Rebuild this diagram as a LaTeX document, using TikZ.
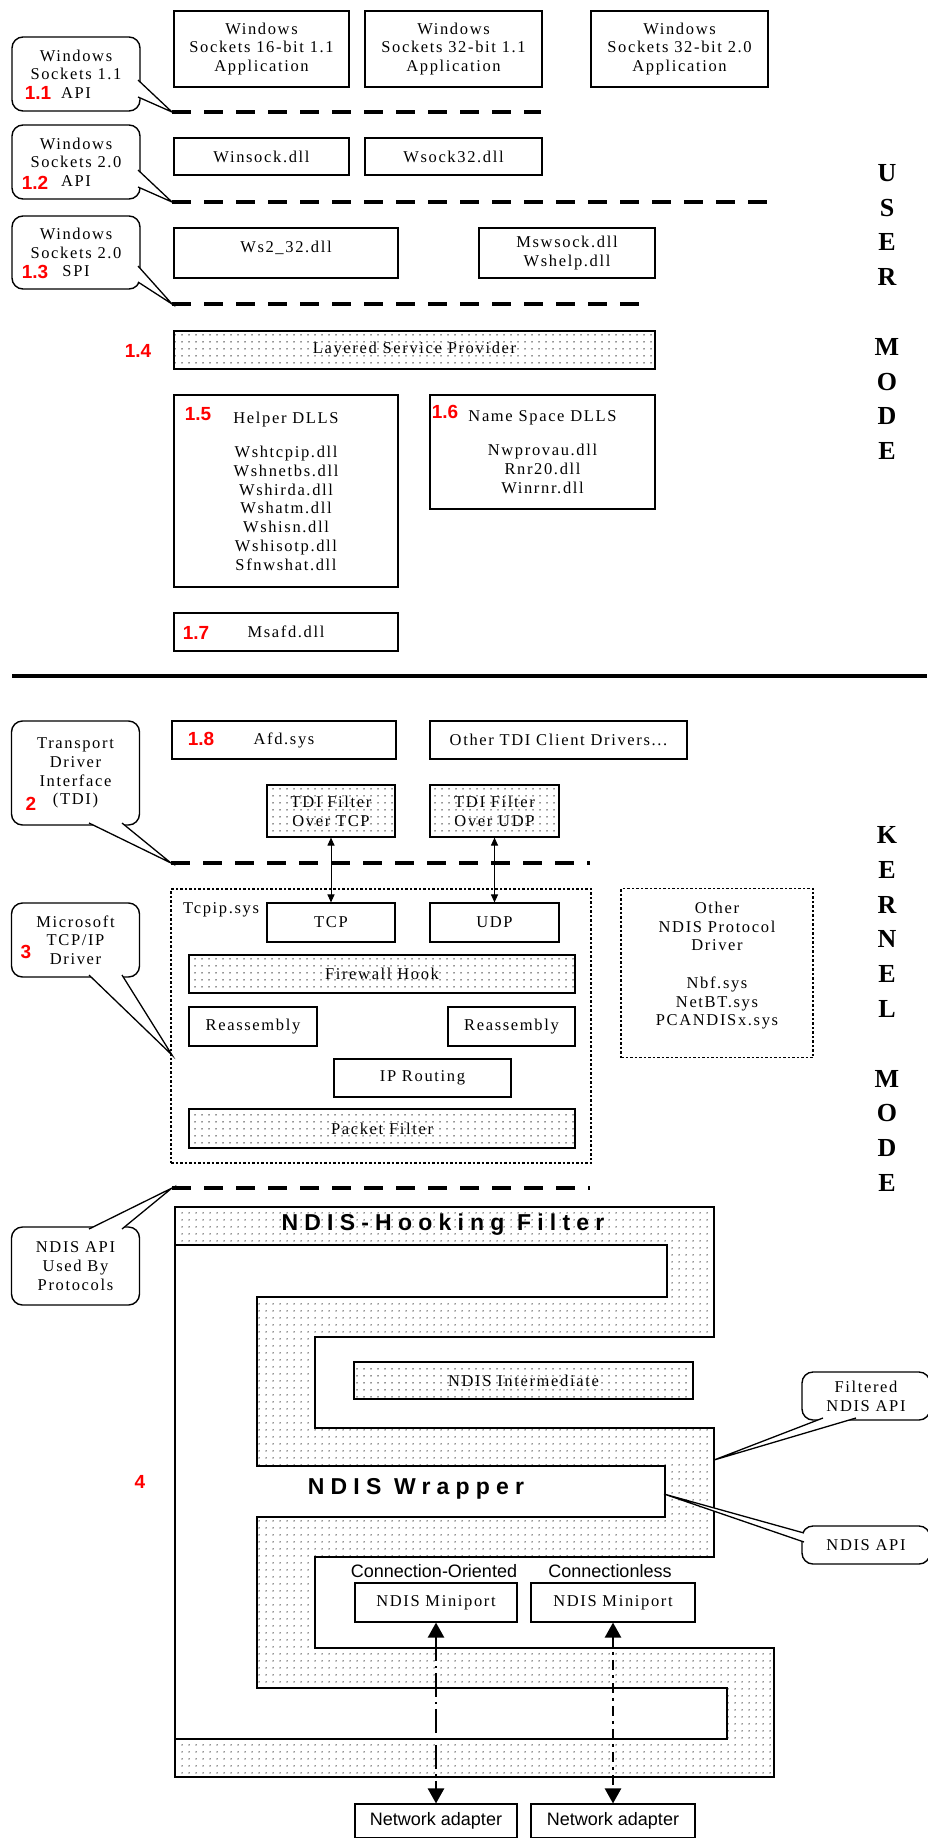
\documentclass[tikz,border=0pt]{standalone}
\usepackage{fontspec}
\setmainfont{Liberation Serif}[LetterSpace=10]
\newfontfamily\numfont{Liberation Sans}
\newfontfamily\hookfont{Liberation Sans}[LetterSpace=27]
\usepackage{tikz}
\usetikzlibrary{arrows.meta,patterns.meta,positioning}

\newcommand{\txt}{\fontsize{16.5}{18.7}\selectfont}

\tikzset{
  box/.style={draw, line width=1.1pt, align=center, inner sep=0pt, font=\txt},
  dotbox/.style={box, pattern={Dots[distance=6.5pt,radius=0.8pt]}, pattern color=black!85},
  frame/.style={draw, line width=1.2pt, dash pattern=on 2.5pt off 2pt, align=center, inner sep=0pt, font=\txt},
  bubble/.style={draw, line width=1.4pt, rounded corners=11pt, fill=white, align=center, inner sep=0pt, font=\txt, minimum width=128pt},
  layer/.style={line width=3.2pt, dash pattern=on 19pt off 13pt},
  num/.style={font=\numfont\bfseries\fontsize{19}{19}\selectfont, text=red, inner sep=0pt},
  plain/.style={font=\numfont\fontsize{18}{18}\selectfont, inner sep=0pt},
  mode/.style={font=\bfseries\fontsize{26}{34.8}\selectfont, align=center, inner sep=0pt},
  tail/.style={line width=1.3pt}
}

\begin{document}
\begin{tikzpicture}[x=1pt, y=-1pt]
    \useasboundingbox (0,0) rectangle (927,1838);

    % NDIS hooking filter and wrapper
    \draw[line width=1.2pt, pattern={Dots[distance=6.5pt,radius=0.8pt]}, pattern color=black!85]
      (175,1207) -- (714,1207) -- (714,1337) -- (315,1337) -- (315,1428) -- (714,1428) -- (714,1557)
      -- (315,1557) -- (315,1648) -- (774,1648) -- (774,1777) -- (175,1777) -- cycle;
    \draw[line width=1.2pt, fill=white]
      (175,1245) -- (667,1245) -- (667,1297) -- (257,1297) -- (257,1466) -- (665,1466) -- (665,1517)
      -- (257,1517) -- (257,1688) -- (727,1688) -- (727,1739) -- (175,1739) -- cycle;
    \node[font=\hookfont\bfseries\fontsize{23}{23}\selectfont, inner sep=0pt] (hook) at (443,1225) {NDIS-Hooking Filter};
    \node[font=\hookfont\bfseries\fontsize{23}{23}\selectfont, inner sep=0pt] (wrap) at (416,1489) {NDIS Wrapper};
    \node[dotbox, minimum width=339pt, minimum height=37pt] (ndisint) at (523.5,1380.5) {NDIS Intermediate};

    % applications
    \node[box, minimum width=175pt, minimum height=76pt] (app16) at (261.5,49) {Windows\\Sockets 16-bit 1.1\\Application};
    \node[box, minimum width=177pt, minimum height=76pt] (app32) at (453.5,49) {Windows\\Sockets 32-bit 1.1\\Application};
    \node[box, minimum width=177pt, minimum height=76pt] (app20) at (679.5,49) {Windows\\Sockets 32-bit 2.0\\Application};

    % user mode dlls
    \node[box, minimum width=175pt, minimum height=37pt] (winsock) at (261.5,156.5) {Winsock.dll};
    \node[box, minimum width=177pt, minimum height=37pt] (wsock32) at (453.5,156.5) {Wsock32.dll};
    \node[box, minimum width=224pt, minimum height=50pt, text depth=12pt] (ws2) at (286,253) {Ws2\_32.dll};
    \node[box, minimum width=176pt, minimum height=50pt] (mswsock) at (567,253) {Mswsock.dll\\Wshelp.dll};
    \node[dotbox, minimum width=481pt, minimum height=38pt] (lsp) at (414.5,350) {Layered Service Provider};
    \node[box, minimum width=224pt, minimum height=192pt] (helper) at (286,491)
      {Helper DLLS\\[16pt]Wshtcpip.dll\\Wshnetbs.dll\\Wshirda.dll\\Wshatm.dll\\Wshisn.dll\\Wshisotp.dll\\Sfnwshat.dll};
    \node[box, minimum width=225pt, minimum height=114pt] (namesp) at (542.5,452)
      {Name Space DLLS\\[16pt]Nwprovau.dll\\Rnr20.dll\\Winrnr.dll};
    \node[box, minimum width=224pt, minimum height=38pt] (msafd) at (286,632) {Msafd.dll};

    % user / kernel boundary
    \coordinate (sepL) at (12,676);
    \coordinate (sepR) at (927,676);
    \draw[line width=4pt] (sepL) -- (sepR);

    % kernel mode drivers
    \node[box, minimum width=224pt, minimum height=38pt] (afd) at (284,740) {Afd.sys};
    \node[box, minimum width=257pt, minimum height=38pt] (othertdi) at (558.5,740) {Other TDI Client Drivers...};
    \node[dotbox, minimum width=128pt, minimum height=52pt] (tditcp) at (331,811) {TDI Filter\\Over TCP};
    \node[dotbox, minimum width=129pt, minimum height=52pt] (tdiudp) at (494.5,811) {TDI Filter\\Over UDP};

    % Tcpip.sys
    \node[frame, minimum width=420pt, minimum height=274pt] (tcpip) at (381,1026) {};
    \node[font=\txt, inner sep=0pt, anchor=base west] (tcpiplbl) at (183,913) {Tcpip.sys};
    \node[box, minimum width=128pt, minimum height=39pt] (tcp) at (331,922.5) {TCP};
    \node[box, minimum width=129pt, minimum height=39pt] (udp) at (494.5,922.5) {UDP};
    \node[dotbox, minimum width=386pt, minimum height=38pt] (fwhook) at (382,974) {Firewall Hook};
    \node[box, minimum width=128pt, minimum height=39pt] (reasm1) at (253,1026.5) {Reassembly};
    \node[box, minimum width=127pt, minimum height=39pt] (reasm2) at (511.5,1026.5) {Reassembly};
    \node[box, minimum width=177pt, minimum height=38pt] (iprout) at (422.5,1078) {IP Routing};
    \node[dotbox, minimum width=386pt, minimum height=39pt] (pktfilt) at (382,1128.5) {Packet Filter};
    \node[frame, minimum width=192pt, minimum height=169pt, text depth=18pt] (otherndis) at (717,973)
      {Other\\NDIS Protocol\\Driver\\[19pt]Nbf.sys\\NetBT.sys\\PCANDISx.sys};

    \draw[{Triangle[width=7pt,length=8pt]}-{Triangle[width=7pt,length=8pt]}, line width=1pt] (tditcp) -- (tcp);
    \draw[{Triangle[width=7pt,length=8pt]}-{Triangle[width=7pt,length=8pt]}, line width=1pt] (tdiudp) -- (udp);

    % miniports and adapters
    \node[plain] (colbl) at (434,1571) {Connection-Oriented};
    \node[plain] (cllbl) at (610,1571) {Connectionless};
    \node[box, minimum width=162pt, minimum height=39pt] (mini1) at (436,1602.5) {NDIS Miniport};
    \node[box, minimum width=164pt, minimum height=39pt] (mini2) at (613,1602.5) {NDIS Miniport};
    \node[box, font=\numfont\fontsize{18}{18}\selectfont, minimum width=162pt, minimum height=34pt] (nic1) at (436,1821) {Network adapter};
    \node[box, font=\numfont\fontsize{18}{18}\selectfont, minimum width=164pt, minimum height=34pt] (nic2) at (613,1821) {Network adapter};
    \draw[{Triangle[width=16pt,length=15pt]}-{Triangle[width=16pt,length=15pt]}, line width=2.4pt,
      dash pattern=on 24pt off 5pt on 2pt off 5pt] (mini1) -- (nic1);
    \draw[{Triangle[width=16pt,length=15pt]}-{Triangle[width=16pt,length=15pt]}, line width=2.4pt,
      dash pattern=on 10pt off 5pt on 3pt off 5pt] (mini2) -- (nic2);

    % interface layers
    \coordinate (l1a) at (172,112);  \coordinate (l1b) at (541,112);
    \coordinate (l2a) at (172,202);  \coordinate (l2b) at (768,202);
    \coordinate (l3a) at (172,304);  \coordinate (l3b) at (645,304);
    \coordinate (tdia) at (171,863); \coordinate (tdib) at (590,863);
    \coordinate (ndisa) at (172,1188); \coordinate (ndisb) at (590,1188);
    \coordinate (tcptip) at (172,1055);
    \coordinate (filtip) at (714,1460);
    \coordinate (apitip) at (664,1494);
    \foreach \a/\b in {l1a/l1b, l2a/l2b, l3a/l3b, tdia/tdib, ndisa/ndisb}
      \draw[layer] (\a) -- (\b);

    % callouts
    \node[bubble, minimum height=74pt] (c11) at (76,74) {Windows\\Sockets 1.1\\API};
    \node[bubble, minimum height=74pt] (c12) at (76,162) {Windows\\Sockets 2.0\\API};
    \node[bubble, minimum height=73pt] (c13) at (76,252.5) {Windows\\Sockets 2.0\\SPI};
    \node[bubble, minimum height=104pt] (c2) at (75.5,773) {Transport\\Driver\\Interface\\(TDI)};
    \node[bubble, minimum height=74pt] (c3) at (75.5,940) {Microsoft\\TCP/IP\\Driver};
    \node[bubble, minimum height=78pt] (c4) at (75.5,1266) {NDIS API\\Used By\\Protocols};
    \node[bubble, minimum height=48pt] (cf) at (866,1396) {Filtered\\NDIS API};
    \node[bubble, minimum height=38pt] (cn) at (866,1545) {NDIS API};

    % tails
    \foreach \px/\py/\t/\qx/\qy in {138/80/l1a/138/97, 138/170/l2a/138/187, 138/266/l3a/138/282,
                          89/823/tdia/122/823, 89/975/tcptip/122/975, 89/1229/ndisa/122/1229,
                          823/1418/filtip/856/1418, 804/1533/apitip/804/1542} {
      \fill[white] (\px,\py) -- (\t) -- (\qx,\qy) -- cycle;
      \draw[tail] (\px,\py) -- (\t) -- (\qx,\qy);
    }

    % numbers
    \foreach \t/\x/\y [count=\i] in {1.1/38/93, 1.2/35/183, 1.3/35/272, 1.4/138/351, 1.5/198/414,
                                     1.6/445/412, 1.7/196/633, 1.8/201/739, 2/31/804, 3/26/952, 4/140/1482}
      \node[num] (num\i) at (\x,\y) {\t};

    % modes
    \node[mode] (user) at (887,312) {U\\S\\E\\R\\[34.8pt]M\\O\\D\\E};
    \node[mode] (kernel) at (887,1009) {K\\E\\R\\N\\E\\L\\[34.8pt]M\\O\\D\\E};
\end{tikzpicture}
\end{document}
